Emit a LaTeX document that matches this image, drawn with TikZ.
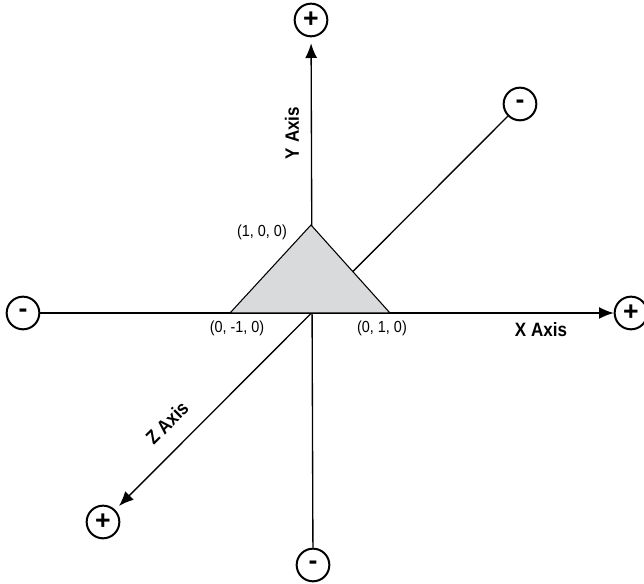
\documentclass[tikz,border=0pt]{standalone}
\usepackage{fontspec}
\setmainfont{Liberation Sans}
\usetikzlibrary{arrows.meta}
\definecolor{facegray}{RGB}{217,218,220}
\tikzstyle{sign} = [draw, circle, line width=1.5pt, minimum size=24.5pt, inner sep=0pt, font=\fontsize{20}{20}\selectfont\bfseries]
\tikzstyle{axis} = [draw, line width=1pt]
\tikzstyle{axisname} = [font=\fontsize{14.5}{16}\selectfont\bfseries\addfontfeature{FakeStretch=0.88}]
\tikzstyle{point} = [font=\fontsize{12}{14}\selectfont\addfontfeature{FakeStretch=0.9}]

\begin{document}
\begin{tikzpicture}[x=0.75pt, y=-0.75pt, >={Latex[length=11pt,width=9pt]}]
    \useasboundingbox (0,0) rectangle (644,584);
    % the circled ends of the three axes
    \node [sign] (yplus) at (311,20) {+};
    \node [sign] (yminus) at (313,565) {-};
    \node [sign] (xminus) at (23,313) {-};
    \node [sign] (xplus) at (631,313) {+};
    \node [sign] (zminus) at (520,104) {-};
    \node [sign] (zplus) at (103,522) {+};

    % axes
    \draw [axis,->,shorten >=4.5pt] (yminus) -- (yplus);
    \draw [axis,->] (xminus) -- (xplus);
    \draw [axis,->,shorten >=4pt] (zminus) -- (zplus);

    % the triangle sits over the axes
    \coordinate (apex) at (311,225);
    \coordinate (left) at (230,313);
    \coordinate (right) at (390,313);
    \filldraw [fill=facegray, line width=0.8pt] (apex) -- (left) -- (right) -- cycle;

    \node [point] (papex) at (262,232) {(1, 0, 0)};
    \node [point] (pleft) at (237,328) {(0, -1, 0)};
    \node [point] (pright) at (382,328) {(0, 1, 0)};

    \node [axisname, rotate=90] (yname) at (292,133) {Y Axis};
    \node [axisname] (xname) at (541,330) {X Axis};
    \node [axisname, rotate=45] (zname) at (167,423) {Z Axis};
\end{tikzpicture}
\end{document}
